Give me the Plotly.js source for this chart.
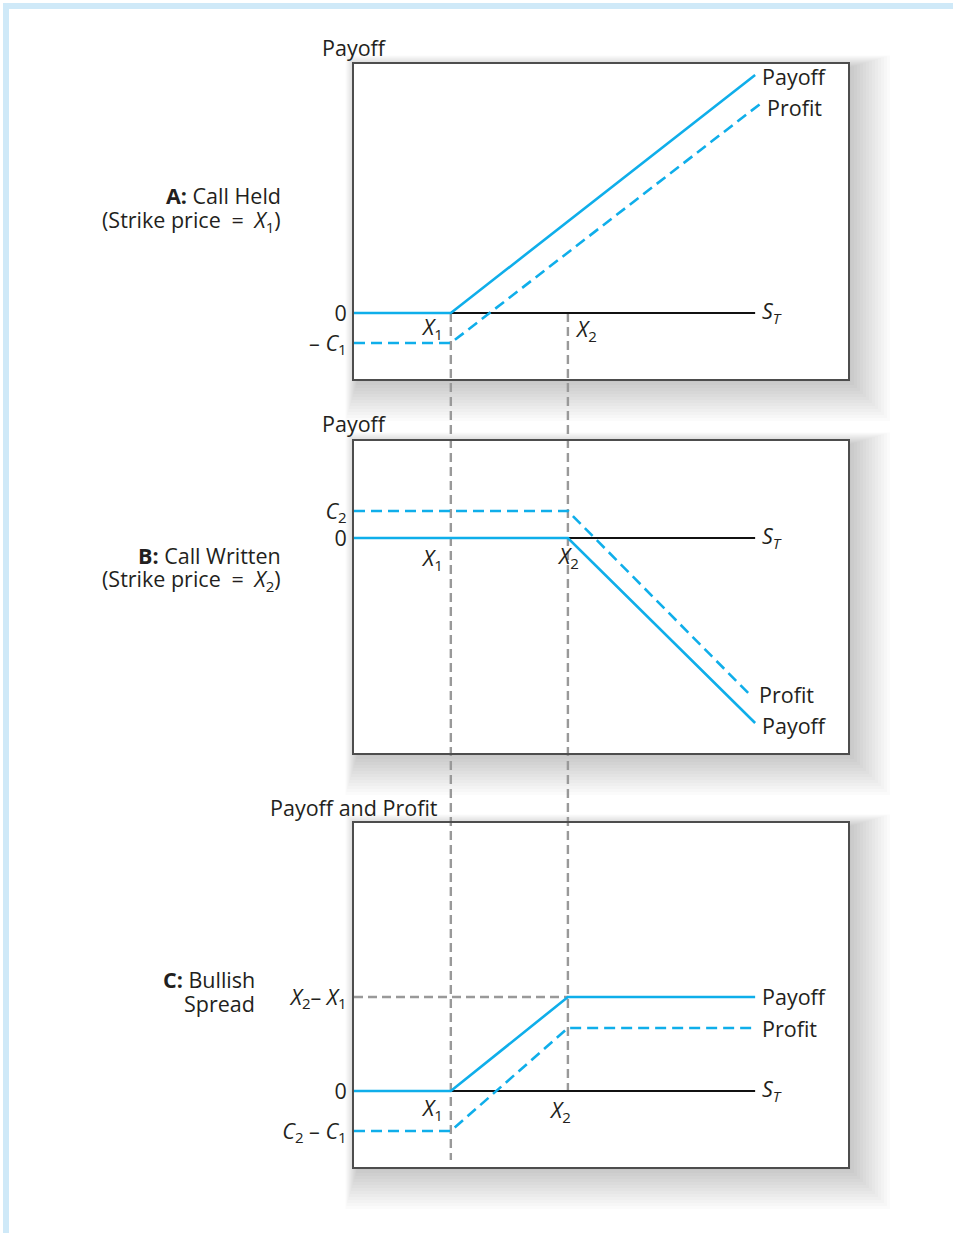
<!DOCTYPE html>
<html><head><meta charset="utf-8">
<script src="https://cdn.plot.ly/plotly-3.0.1.min.js"></script>
<style>html,body{margin:0;padding:0;background:#fff}</style>
</head><body><div id="chart" style="width:953px;height:1233px"></div>
<script>
// ---------------- data ----------------
const strikes = [19.6, 43.3];          // X1, X2 on the S_T axis
const stockAxisEnd = [0, 81.2];        // S_T axis drawn over this span
// Panel A: call held (strike X1)
const callHeldX = [0, 19.6, 81.2];
const callHeldPayoff = [0, 0, 59.5];
const callHeldProfitX = [0, 19.6, 82.2];
const callHeldProfit = [-7.5, -7.5, 52.25];
const callHeldTicks = [0, -7.5];
const callHeldTickText = ['0', '– <i>C</i><sub>1</sub>'];
// Panel B: call written (strike X2)
const callWrittenX = [0, 43.3, 81.2];
const callWrittenPayoff = [0, 0, -46.25];
const callWrittenProfitX = [0, 43.3, 80.6];
const callWrittenProfit = [6.75, 6.75, -39.75];
const callWrittenTicks = [6.75, 0];
const callWrittenTickText = ['<i>C</i><sub>2</sub>', '0'];
// Panel C: bullish spread
const spreadX = [0, 19.6, 43.3, 81.2];
const spreadPayoff = [0, 0, 23.5, 23.5];
const spreadProfit = [-10, -10, 15.75, 15.75];
const spreadTicks = [23.5, 0, -10];
const spreadTickText = ['<i>X</i><sub>2</sub>– <i>X</i><sub>1</sub>', '0', '<i>C</i><sub>2</sub> – <i>C</i><sub>1</sub>'];
const spreadGuideX = [0, 43.3];
const spreadGuideY = [23.5, 23.5];
const strikeGuideBottom = [-17.25, 0]; // lower end of X1 / X2 guides in panel C units

// ---------------- layout helpers ----------------
const W = 953, H = 1233;
const PX = p => p / W;
const PY = p => 1 - p / H;
const BLUE = '#0faeea', GRAY = '#999999', INK = '#231f20';
const FONT = '"Open Sans", "Noto Sans", sans-serif';
const FS = 21.5;
const boxes = [ // pixel boxes of the three panels
  {x0: 354, x1: 848, y0: 64, y1: 379},
  {x0: 354, x1: 848, y0: 441, y1: 753},
  {x0: 354, x1: 848, y0: 823, y1: 1167}
];
const ranges = [[-16.5, 62.25], [-53.75, 24.25], [-19, 67]];
const xRange = [0, 100];
const xDomain = [PX(boxes[0].x0), PX(boxes[0].x1)];
const yDomains = boxes.map(b => [PY(b.y1), PY(b.y0)]);
function yToPaper(i, v) {
  const d = yDomains[i], r = ranges[i];
  return d[0] + (v - r[0]) / (r[1] - r[0]) * (d[1] - d[0]);
}

const boxAxis = {showline: true, mirror: true, linecolor: '#4d4d4d', linewidth: 2,
  showgrid: false, zeroline: false, fixedrange: true};

function xAxis(anchor) {
  return Object.assign({}, boxAxis, {domain: xDomain, range: xRange, anchor, showticklabels: false, ticks: ''});
}
function yAxis(i, anchor, vals, text) {
  return Object.assign({}, boxAxis, {domain: yDomains[i], range: ranges[i], anchor,
    tickmode: 'array', tickvals: vals, ticktext: text, ticks: '', ticklabelstandoff: 1,
    tickfont: {family: FONT, size: FS, color: INK}});
}

// ---------------- traces ----------------
const traces = [];
function axisLine(xa, ya) {
  traces.push({x: stockAxisEnd, y: [0, 0], xaxis: xa, yaxis: ya, mode: 'lines',
    line: {color: '#111', width: 2}, hoverinfo: 'skip'});
}
function solid(x, y, xa, ya) {
  traces.push({x, y, xaxis: xa, yaxis: ya, mode: 'lines', line: {color: BLUE, width: 2.6}, hoverinfo: 'skip'});
}
function dashed(x, y, xa, ya, color) {
  traces.push({x, y, xaxis: xa, yaxis: ya, mode: 'lines',
    line: {color: color || BLUE, width: color ? 2.4 : 2.6, dash: color ? '9px,5px' : '11px,6px'}, hoverinfo: 'skip'});
}
// A
axisLine('x', 'y');
solid(callHeldX, callHeldPayoff, 'x', 'y');
dashed(callHeldProfitX, callHeldProfit, 'x', 'y');
// B
axisLine('x2', 'y2');
solid(callWrittenX, callWrittenPayoff, 'x2', 'y2');
dashed(callWrittenProfitX, callWrittenProfit, 'x2', 'y2');
// C
dashed(spreadGuideX, spreadGuideY, 'x3', 'y3', GRAY);
axisLine('x3', 'y3');
solid(spreadX, spreadPayoff, 'x3', 'y3');
dashed(spreadX, spreadProfit, 'x3', 'y3');

// ---------------- shapes ----------------
const shapes = [];
// light blue page frame
shapes.push({type: 'rect', xref: 'paper', yref: 'paper', x0: PX(3), x1: 1, y0: PY(9), y1: PY(3),
  fillcolor: '#cfe9f8', line: {width: 0}, layer: 'below'});
shapes.push({type: 'rect', xref: 'paper', yref: 'paper', x0: PX(3), x1: PX(9), y0: 0, y1: PY(3),
  fillcolor: '#cfe9f8', line: {width: 0}, layer: 'below'});
// soft drop shadows
boxes.forEach(b => {
  for (let i = 1; i <= 14; i++) {
    shapes.push({type: 'rect', xref: 'paper', yref: 'paper',
      x0: PX(b.x0 + 4 - i * 0.9), x1: PX(b.x1 + i * 3),
      y0: PY(b.y1 + i * 3), y1: PY(b.y0 + 4 - i * 0.9),
      fillcolor: 'rgba(0,0,0,0.016)', line: {width: 0}, layer: 'below'});
  }
});
boxes.forEach(b => {
  shapes.push({type: 'rect', xref: 'paper', yref: 'paper', x0: PX(b.x0), x1: PX(b.x1),
    y0: PY(b.y1), y1: PY(b.y0), fillcolor: '#ffffff', line: {width: 0}, layer: 'below'});
});
// vertical strike guides through all panels
strikes.forEach((s, k) => {
  shapes.push({type: 'line', xref: 'x', yref: 'paper', x0: s, x1: s,
    y0: yToPaper(0, 0), y1: yToPaper(2, strikeGuideBottom[k]),
    line: {color: GRAY, width: 2.4, dash: '9px,5px'}, layer: 'below'});
});

// ---------------- annotations ----------------
const ann = [];
function txt(text, x, y, opts) {
  ann.push(Object.assign({text, x, y, showarrow: false, yanchor: 'middle', xanchor: 'center', borderpad: 0,
    font: {family: FONT, size: FS, color: INK}}, opts));
}
// axis titles
txt('Payoff', PX(354), PY(48), {xref: 'paper', yref: 'paper'});
txt('Payoff', PX(354), PY(424), {xref: 'paper', yref: 'paper'});
txt('Payoff and Profit', PX(354), PY(807), {xref: 'paper', yref: 'paper'});
// panel labels
const R = {xref: 'paper', yref: 'paper', xanchor: 'right', align: 'right'};
const EQ = '\u2002=\u2002';
txt('<b>A:</b> Call Held', PX(282), PY(196), R);
txt('(Strike price' + EQ + '<i>X</i><sub>1</sub>)', PX(282), PY(221), R);
txt('<b>B:</b> Call Written', PX(282), PY(555), R);
txt('(Strike price' + EQ + '<i>X</i><sub>2</sub>)', PX(282), PY(580), R);
txt('<b>C:</b> Bullish', PX(256), PY(979), R);
txt('Spread', PX(256), PY(1003), R);
// S_T labels at the axis end
['', '2', '3'].forEach(n => {
  txt('<i>S</i><sub><i>T</i></sub>', stockAxisEnd[1], 0, {xref: 'x' + n, yref: 'y' + n, xanchor: 'left', xshift: 6, yshift: 1});
});
// line end labels
const L = (n) => ({xref: 'x' + n, yref: 'y' + n, xanchor: 'left'});
txt('Payoff', callHeldX[2], callHeldPayoff[2], Object.assign(L(''), {xshift: 6, yshift: -2}));
txt('Profit', callHeldProfitX[2], callHeldProfit[2], Object.assign(L(''), {xshift: 6, yshift: -4}));
txt('Profit', callWrittenProfitX[2], callWrittenProfit[2], Object.assign(L('2'), {xshift: 6, yshift: 3}));
txt('Payoff', callWrittenX[2], callWrittenPayoff[2], Object.assign(L('2'), {xshift: 6, yshift: -2}));
txt('Payoff', spreadX[3], spreadPayoff[3], Object.assign(L('3'), {xshift: 6, yshift: 1}));
txt('Profit', spreadX[3], spreadProfit[3], Object.assign(L('3'), {xshift: 6, yshift: 0}));
// strike labels
const X1 = '<i>X</i><sub>1</sub>', X2 = '<i>X</i><sub>2</sub>';
txt(X1, strikes[0], 0, {xref: 'x', yref: 'y', xshift: -19, yshift: -15});
txt(X2, strikes[1], 0, {xref: 'x', yref: 'y', xshift: 18, yshift: -17});
txt(X1, strikes[0], 0, {xref: 'x2', yref: 'y2', xshift: -19, yshift: -21});
txt(X2, strikes[1], 0, {xref: 'x2', yref: 'y2', xshift: 0, yshift: -19});
txt(X1, strikes[0], 0, {xref: 'x3', yref: 'y3', xshift: -19, yshift: -18});
txt(X2, strikes[1], 0, {xref: 'x3', yref: 'y3', xshift: -8, yshift: -20});

const layout = {
  width: W, height: H, margin: {l: 0, r: 0, t: 0, b: 0, pad: 0}, showlegend: false,
  paper_bgcolor: '#ffffff', plot_bgcolor: 'rgba(0,0,0,0)',
  font: {family: FONT, size: FS, color: INK},
  xaxis: xAxis('y'), yaxis: yAxis(0, 'x', callHeldTicks, callHeldTickText),
  xaxis2: xAxis('y2'), yaxis2: yAxis(1, 'x2', callWrittenTicks, callWrittenTickText),
  xaxis3: xAxis('y3'), yaxis3: yAxis(2, 'x3', spreadTicks, spreadTickText),
  shapes, annotations: ann
};
Plotly.newPlot('chart', traces, layout, {displayModeBar: false, staticPlot: true});
</script></body></html>
